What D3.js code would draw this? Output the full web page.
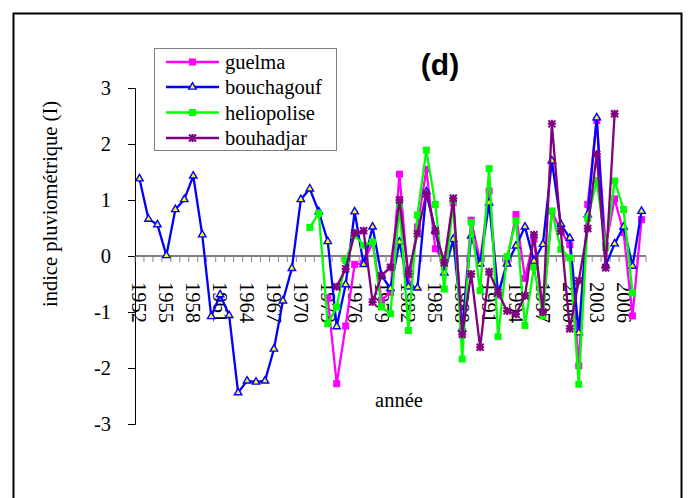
<!DOCTYPE html>
<html>
<head>
<meta charset="utf-8">
<script src="https://cdn.jsdelivr.net/npm/d3@7"></script>
<style>
body { margin: 0; background: #fff; }
svg text { font-family: 'Liberation Serif', 'Times New Roman', Times, serif; }
svg text.title { font-family: 'Liberation Sans', Arial, sans-serif; }
</style>
</head>
<body>
<div id="chart"></div>
<script>
// categories
var years = [1952, 1953, 1954, 1955, 1956, 1957, 1958, 1959, 1960, 1961, 1962, 1963, 1964, 1965,
  1966, 1967, 1968, 1969, 1970, 1971, 1972, 1973, 1974, 1975, 1976, 1977, 1978, 1979, 1980,
  1981, 1982, 1983, 1984, 1985, 1986, 1987, 1988, 1989, 1990, 1991, 1992, 1993, 1994, 1995,
  1996, 1997, 1998, 1999, 2000, 2001, 2002, 2003, 2004, 2005, 2006, 2007, 2008];
var yearLabels = [1952, 1955, 1958, 1961, 1964, 1967, 1970, 1973, 1976, 1979, 1982, 1985,
  1988, 1991, 1994, 1997, 2000, 2003, 2006];
var yTicks = [-3, -2, -1, 0, 1, 2, 3];

// series values (each starts at its own first year)
var bouchagoufFrom = 1952;
var bouchagouf = [1.38, 0.66, 0.56, 0.01, 0.83, 1.01, 1.43, 0.38, -1.08, -0.69, -1.06, -2.44,
  -2.23, -2.25, -2.23, -1.66, -0.80, -0.22, 1.01, 1.20, 0.79, 0.26, -1.26, -0.51, 0.79, -0.15,
  0.52, -0.35, -0.58, 0.25, -0.55, -0.57, 1.15, 0.45, -0.30, 0.30, -1.30, 0.36, -0.14, 0.95,
  -0.68, -0.14, 0.18, 0.52, -0.09, 0.21, 1.70, 0.57, 0.32, -1.37, 0.74, 2.47, -0.17, 0.22,
  0.52, -0.18, 0.80];
var guelmaFrom = 1973;
var guelma = [-0.75, -2.28, -1.25, -0.15, -0.13, 0.25, -0.79, -0.65, 1.46, -0.50, 0.52, 1.55,
  0.13, -0.10, 0.95, -1.35, 0.64, -0.10, 1.16, -0.70, -0.10, 0.74, -0.40, 0.30, -1.00, 0.80,
  0.45, 0.20, -1.96, 0.92, 2.42, 0.18, 1.02, 0.42, -1.07, 0.65];
var heliopoliseFrom = 1971;
var heliopolise = [0.51, 0.76, -1.21, -0.91, -0.08, 0.37, 0.19, 0.25, -0.91, -1.03, 0.90, -1.33,
  0.73, 1.89, 0.92, -0.59, 0.98, -1.84, 0.60, -0.62, 1.56, -1.44, -0.01, 0.63, -1.24, -0.20,
  -1.07, 0.80, 0.12, -0.03, -2.29, 0.67, 1.35, 0.15, 1.34, 0.83, -0.66];
var bouhadjarFrom = 1974;
var bouhadjar = [-0.55, -0.23, 0.41, 0.45, -0.82, -0.35, -0.20, 1.00, -0.32, 0.40, 1.11, 0.45,
  -0.12, 1.03, -1.40, -0.32, -1.63, -0.28, -0.65, -0.98, -1.04, -0.71, 0.38, -1.00, 2.36, 0.44,
  -1.30, -0.44, 0.49, 1.82, -0.21, 2.54];

var seriesNames = ['guelma', 'bouchagouf', 'heliopolise', 'bouhadjar'];
var seriesColors = ['#ff00ff', '#0000ff', '#00ff00', '#800080'];
var seriesMarkers = ['square', 'triangle', 'square', 'star'];

function toPoints(from, vals) {
  return vals.map(function (v, i) {
    return { yr: from + i, v: v };
  });
}

var seriesData = [
  toPoints(guelmaFrom, guelma),
  toPoints(bouchagoufFrom, bouchagouf),
  toPoints(heliopoliseFrom, heliopolise),
  toPoints(bouhadjarFrom, bouhadjar)
];

var width = 691,
  height = 498,
  fs = 20.5;

var svg = d3.select('#chart')
  .append('svg')
  .attr('width', width)
  .attr('height', height);

svg.append('rect')
  .attr('x', 13.5)
  .attr('y', 13.5)
  .attr('width', 668)
  .attr('height', 500)
  .attr('fill', '#fff')
  .attr('stroke', '#000')
  .attr('stroke-width', 2);

var x = d3.scaleBand()
  .domain(years)
  .range([135, 646]);
var y = d3.scaleLinear()
  .domain([-3, 3])
  .range([424, 88]);

function cx(yr) {
  return x(yr) + x.bandwidth() / 2;
}

// y axis
var yAxis = svg.append('g')
  .attr('transform', 'translate(135,0)')
  .call(d3.axisLeft(y)
    .tickValues(yTicks)
    .tickSize(7)
    .tickPadding(17)
    .tickFormat(function (d) { return String(d); }));
yAxis.attr('font-family', null);
yAxis.select('.domain').attr('stroke', '#000');
yAxis.selectAll('text')
  .attr('font-size', fs)
  .attr('fill', '#000');

// x axis along zero
var y0 = y(0);
svg.append('line')
  .attr('x1', 135).attr('x2', 646)
  .attr('y1', y0).attr('y2', y0)
  .attr('stroke', '#000');

var bounds = years.map(function (d) { return x(d); }).concat([x.range()[1]]);
svg.append('g')
  .selectAll('line')
  .data(bounds)
  .enter()
  .append('line')
  .attr('x1', d => d).attr('x2', d => d)
  .attr('y1', y0).attr('y2', y0 + 6)
  .attr('stroke', '#888');

svg.append('g')
  .selectAll('text')
  .data(yearLabels)
  .enter()
  .append('text')
  .attr('transform', d => 'translate(' + cx(d) + ',' + (y0 + 26) + ') rotate(90)')
  .attr('dominant-baseline', 'central')
  .attr('font-size', fs)
  .text(d => d);

// titles
svg.append('text')
  .attr('transform', 'translate(57,204) rotate(-90)')
  .attr('text-anchor', 'middle')
  .attr('font-size', fs)
  .text('indice pluviométrique (I)');

svg.append('text')
  .attr('x', 399)
  .attr('y', 407)
  .attr('text-anchor', 'middle')
  .attr('font-size', fs)
  .text('année');

svg.append('text')
  .attr('class', 'title')
  .attr('x', 440)
  .attr('y', 75)
  .attr('text-anchor', 'middle')
  .attr('font-weight', 'bold')
  .attr('font-size', 30)
  .text('(d)');

// markers
function drawMarker(g, type, color) {
  if (type === 'square') {
    g.append('rect')
      .attr('x', -3.5).attr('y', -3.5)
      .attr('width', 7).attr('height', 7)
      .attr('fill', color);
  } else if (type === 'triangle') {
    g.append('path')
      .attr('d', d3.symbol().type(d3.symbolTriangle).size(24)())
      .attr('fill', '#ffff00')
      .attr('stroke', color)
      .attr('stroke-width', 1.4);
  } else {
    g.append('path')
      .attr('d', 'M-3.5,-3.5L3.5,3.5M-3.5,3.5L3.5,-3.5M0,-4L0,4M-4,0L4,0')
      .attr('stroke', color)
      .attr('stroke-width', 2);
  }
}

var line = d3.line()
  .x(d => cx(d.yr))
  .y(d => y(d.v));

seriesData.forEach(function (pts, i) {
  var g = svg.append('g').attr('class', 'series-' + seriesNames[i]);
  g.append('path')
    .datum(pts)
    .attr('d', line)
    .attr('fill', 'none')
    .attr('stroke', seriesColors[i])
    .attr('stroke-width', 2.3)
    .attr('stroke-linejoin', 'round');
  g.selectAll('g.mk')
    .data(pts)
    .enter()
    .append('g')
    .attr('class', 'mk')
    .attr('transform', d => 'translate(' + cx(d.yr) + ',' + y(d.v) + ')')
    .each(function () {
      drawMarker(d3.select(this), seriesMarkers[i], seriesColors[i]);
    });
});

// legend
var legend = svg.append('g');
legend.append('rect')
  .attr('x', 154.5).attr('y', 48.5)
  .attr('width', 182).attr('height', 102)
  .attr('fill', '#fff')
  .attr('stroke', '#808080');

var rowY = [62, 87, 112.5, 138];
seriesNames.forEach(function (name, i) {
  var row = legend.append('g').attr('transform', 'translate(0,' + rowY[i] + ')');
  row.append('line')
    .attr('x1', 166).attr('x2', 219)
    .attr('stroke', seriesColors[i])
    .attr('stroke-width', 2.3);
  drawMarker(row.append('g').attr('transform', 'translate(192.5,0)'), seriesMarkers[i], seriesColors[i]);
  row.append('text')
    .attr('x', 225)
    .attr('y', 7)
    .attr('font-size', fs)
    .text(name);
});
</script>
</body>
</html>
